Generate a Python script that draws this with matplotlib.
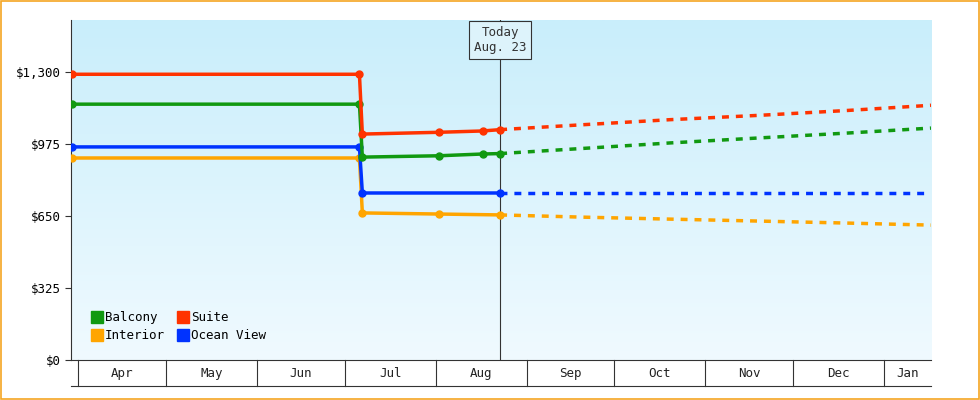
import matplotlib
matplotlib.use("Agg")
import matplotlib.pyplot as plt
import matplotlib.dates as mdates
import numpy as np
from datetime import datetime as D

plt.rcParams["font.family"] = "DejaVu Sans Mono"

series_names = ["Balcony", "Interior", "Suite", "Ocean View"]
colors = {"Balcony": "#119911", "Suite": "#ff3300", "Interior": "#ffa500", "Ocean View": "#0033ff"}

hist_dates = {
    "Suite": [D(2023,3,30), D(2023,7,6), D(2023,7,7), D(2023,8,2), D(2023,8,17), D(2023,8,23)],
    "Balcony": [D(2023,3,30), D(2023,7,6), D(2023,7,7), D(2023,8,2), D(2023,8,17), D(2023,8,23)],
    "Ocean View": [D(2023,3,30), D(2023,7,6), D(2023,7,7), D(2023,8,23)],
    "Interior": [D(2023,3,30), D(2023,7,6), D(2023,7,7), D(2023,8,2), D(2023,8,23)],
}
hist_values = {
    "Suite": [1290, 1290, 1020, 1028, 1034, 1040],
    "Balcony": [1155, 1155, 916, 922, 930, 932],
    "Ocean View": [962, 962, 754, 754],
    "Interior": [912, 912, 664, 659, 655],
}
fc_dates = [D(2023,8,23), D(2023,9,20), D(2023,10,20), D(2023,11,20), D(2023,12,20), D(2024,1,17)]
fc_values = {
    "Suite": [1040, 1062, 1085, 1105, 1127, 1150],
    "Balcony": [932, 955, 980, 1003, 1025, 1047],
    "Ocean View": [754, 754, 754, 754, 754, 754],
    "Interior": [655, 645, 636, 627, 618, 609],
}
y_ticks = [0, 325, 650, 975, 1300]
y_labels = ["$0", "$325", "$650", "$975", "$1,300"]
month_starts = [D(2023,m,1) for m in range(4,13)] + [D(2024,1,1), D(2024,2,1)]
month_labels = ["Apr","May","Jun","Jul","Aug","Sep","Oct","Nov","Dec","Jan"]
today = D(2023,8,23)

fig = plt.figure(figsize=(9.8,4.0), dpi=100)
fig.patch.set_facecolor("white")
fig.add_artist(plt.Rectangle((0.001,0.002),0.998,0.996,transform=fig.transFigure,fill=False,edgecolor="#f5a623",lw=1.2))
ax = fig.add_axes([0.0724, 0.1, 0.8776, 0.85])
x0, x1 = mdates.date2num(D(2023,3,29,14)), mdates.date2num(D(2024,1,17))
ax.set_xlim(x0, x1)
ax.set_ylim(0, 1535)
grad = np.linspace(0,1,256).reshape(-1,1)
from matplotlib.colors import LinearSegmentedColormap
cm = LinearSegmentedColormap.from_list("g", ["#f0faff", "#c9eefb"])
ax.imshow(grad, cmap=cm, origin="lower", extent=[x0,x1,0,1535], aspect="auto", zorder=0)

for n in ["Interior","Ocean View","Balcony","Suite"]:
    c = colors[n]
    ax.plot(mdates.date2num(hist_dates[n]), hist_values[n], color=c, lw=2.5, marker="o", ms=5, zorder=3)
    ax.plot(mdates.date2num(fc_dates), fc_values[n], color=c, lw=2.5, ls=(0,(2,2)), zorder=3)

ax.axvline(mdates.date2num(today), color="#333333", lw=0.8, zorder=2, ymax=1)
ax.annotate("Today\nAug. 23", (mdates.date2num(today), 1535), xytext=(0,-4), textcoords="offset points",
            ha="center", va="top", fontsize=9, color="#333333", annotation_clip=False,
            bbox=dict(boxstyle="square,pad=0.4", fc="#ddf3fb", ec="#333333", lw=0.8), zorder=5)
ax.set_yticks(y_ticks)
ax.set_yticklabels(y_labels, fontsize=9)
for s in ["top","right"]:
    ax.spines[s].set_visible(False)
ax.spines["left"].set_color("#333333")
ax.spines["bottom"].set_color("#333333")
ax.tick_params(axis="y", length=4, color="#333333")
ax.set_xticks([])
trans = ax.get_xaxis_transform()
for d in month_starts[:-1]:
    x = mdates.date2num(d)
    ax.plot([x,x],[0,-0.075],transform=trans,color="#333333",lw=0.8,clip_on=False)
ax.plot([x0,x1],[-0.075,-0.075],transform=trans,color="#333333",lw=0.8,clip_on=False)
for i,l in enumerate(month_labels):
    a = mdates.date2num(month_starts[i]); b = min(mdates.date2num(month_starts[i+1]), x1)
    ax.text((a+b)/2, -0.04, l, transform=trans, ha="center", va="center", fontsize=9, color="#222222")

from matplotlib.lines import Line2D
handles = [Line2D([],[],color=colors[n],marker="s",ls="",ms=8) for n in series_names]
ax.legend(handles, series_names, ncol=2, loc="lower left", bbox_to_anchor=(0.01,0.02), frameon=False,
          fontsize=9, handletextpad=0.1, columnspacing=1.0, labelspacing=0.4, handlelength=1.0)
fig.savefig("out.png", dpi=100)
